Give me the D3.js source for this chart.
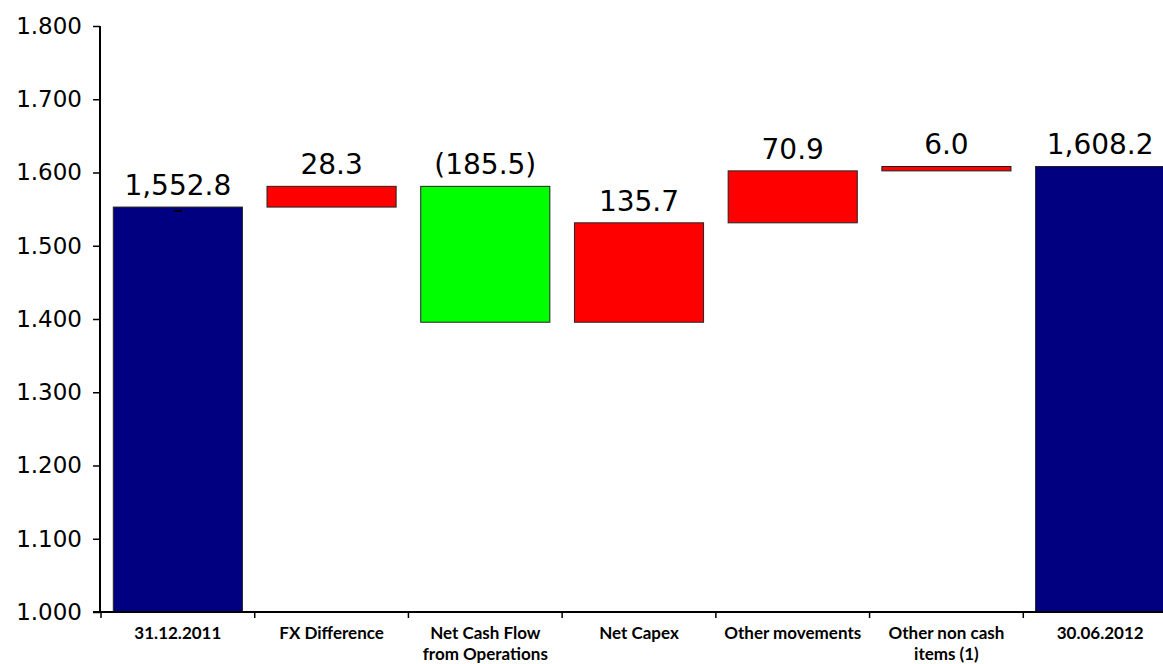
<!DOCTYPE html>
<html><head><meta charset="utf-8">
<script src="https://cdn.jsdelivr.net/npm/d3@7/dist/d3.min.js"></script>
<style>body{margin:0;background:#fff;} svg{display:block;}</style>
</head><body>
<svg id="chart" width="1163" height="664"></svg>
<script>
const categories = [["31.12.2011"],["FX Difference"],["Net Cash Flow","from Operations"],["Net Capex"],["Other movements"],["Other non cash","items (1)"],["30.06.2012"]];
const values = [1552.8, 28.3, -185.5, 135.7, 70.9, 6.0, 1608.2];
const kinds = ["total","delta","delta","delta","delta","delta","total"];
const valueLabels = ["1,552.8","28.3","(185.5)","135.7","70.9","6.0","1,608.2"];
const yTicks = [1000,1100,1200,1300,1400,1500,1600,1700,1800];
const yTickLabels = ["1.000","1.100","1.200","1.300","1.400","1.500","1.600","1.700","1.800"];

const svg = d3.select("#chart");
const x = d3.scaleBand().domain(d3.range(categories.length)).range([101,1177]).paddingInner(0.16).paddingOuter(0.08);
const y = d3.scaleLinear().domain([1000,1800]).range([612,26]);

let run = 0;
const segs = values.map((v,i)=>{
  let lo, hi, col;
  if (kinds[i]==="total"){ lo=1000; hi=v; run=v; col="#000080"; }
  else { const s=run, e=run+v; lo=Math.min(s,e); hi=Math.max(s,e); run=e; col = v<0 ? "#00ff00" : "#ff0000"; }
  return {i, lo, hi, col};
});

svg.append("g").selectAll("rect").data(segs).join("rect")
  .attr("x", d=>x(d.i)).attr("width", x.bandwidth())
  .attr("y", d=>y(d.hi)).attr("height", d=>Math.max(2, y(d.lo)-y(d.hi)))
  .attr("fill", d=>d.col).attr("stroke","#222").attr("stroke-width",1);

svg.append("line").attr("x1", x(0)+x.bandwidth()/2-4).attr("x2", x(0)+x.bandwidth()/2+4)
  .attr("y1", y(values[0])+4).attr("y2", y(values[0])+4).attr("stroke","#000").attr("stroke-width",2);

svg.append("g").selectAll("text").data(segs).join("text")
  .attr("x", d=>x(d.i)+x.bandwidth()/2).attr("y", d=>y(d.hi)-12)
  .attr("text-anchor","middle").attr("font-family","'DejaVu Sans', sans-serif")
  .attr("font-size",28).attr("fill","#000").text(d=>valueLabels[d.i]);

const yAxis = svg.append("g").attr("transform","translate(100,0)")
  .call(d3.axisLeft(y).tickValues(yTicks).tickFormat((d,i)=>yTickLabels[i]).tickSize(7).tickPadding(11));
yAxis.select(".domain").attr("stroke","#000").attr("stroke-width",2).attr("d","M0,612V26");
yAxis.selectAll(".tick line").attr("stroke","#000").attr("stroke-width",1.5);
yAxis.selectAll("text").attr("font-family","'DejaVu Sans', sans-serif").attr("font-size",23).attr("fill","#000");

const xAxis = svg.append("g").attr("transform","translate(0,612)");
xAxis.append("line").attr("x1",93).attr("x2",1163).attr("y1",0).attr("y2",0).attr("stroke","#000").attr("stroke-width",2);
const bounds = d3.range(categories.length+1).map(i => i===0 ? 101 : x(i-1)+x.bandwidth()+x.step()*x.paddingInner()/2);
xAxis.selectAll("line.tk").data(bounds).join("line").attr("class","tk")
  .attr("x1",d=>d).attr("x2",d=>d).attr("y1",0).attr("y2",6).attr("stroke","#000").attr("stroke-width",1.5);
const labs = xAxis.selectAll("text").data(categories).join("text")
  .attr("text-anchor","middle").attr("font-family","Lato, 'Noto Sans', sans-serif")
  .attr("font-size",17).attr("font-weight","bold").attr("fill","#000")
  .attr("transform",(d,i)=>`translate(${x(i)+x.bandwidth()/2},27)`);
labs.selectAll("tspan").data(d=>d).join("tspan").attr("x",0).attr("dy",(d,j)=>j===0?0:21).text(d=>d);
</script>
</body></html>
